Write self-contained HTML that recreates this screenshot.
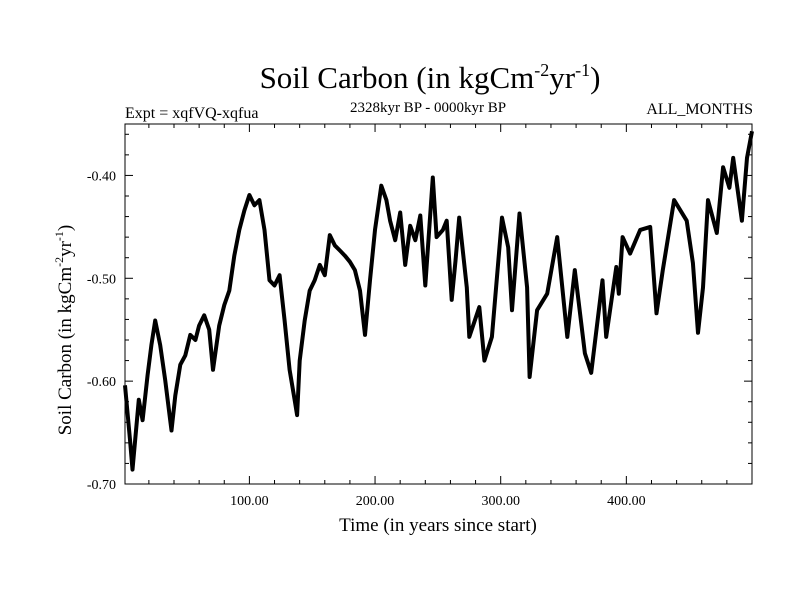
<!DOCTYPE html>
<html><head><meta charset="utf-8"><style>
body{margin:0;background:#fff}
text{font-family:"Liberation Serif",serif;fill:#000}
</style></head><body>
<svg id="chart" width="800" height="600" xmlns="http://www.w3.org/2000/svg">
<rect width="800" height="600" fill="#fff"/>
<text x="430" y="88" font-size="31" text-anchor="middle">Soil Carbon (in kgCm<tspan font-size="18" dy="-12">-2</tspan><tspan dy="12">yr</tspan><tspan font-size="18" dy="-12">-1</tspan><tspan dy="12">)</tspan></text>
<text x="428" y="112" font-size="15" text-anchor="middle">2328kyr BP - 0000kyr BP</text>
<text x="125" y="118" font-size="16">Expt = xqfVQ-xqfua</text>
<text x="753" y="114" font-size="16" text-anchor="end">ALL_MONTHS</text>
<g id="axes"></g>
<path id="series" fill="none" stroke="#000" stroke-width="4" stroke-linejoin="round"/>
<text x="438" y="531" font-size="19" text-anchor="middle">Time (in years since start)</text>
<text transform="translate(71,330) rotate(-90)" font-size="19" text-anchor="middle">Soil Carbon (in kgCm<tspan font-size="12" dy="-8">-2</tspan><tspan dy="8">yr</tspan><tspan font-size="12" dy="-8">-1</tspan><tspan dy="8">)</tspan></text>
</svg>
<script>
const years=[1,5,7,12,15,19,22,25,29,33,37,38,41,45,49,53,57,60,64,68,71,76,80,84,88,92,96,100,104,108,112,116,120,124,128,132,136,138,140,144,148,152,156,160,164,168,172,176,180,184,188,192,196,200,205,209,212,216,220,224,228,232,236,240,246,249,254,257,261,264,267,273,275,283,287,293,301,306,309,315,321,323,329,337,345,353,359,367,372,381,384,392,394,397,403,411,419,424,429,438,448,453,457,461,465,472,477,482,485,492,496,500];
const values=[-0.604,-0.657,-0.686,-0.618,-0.638,-0.594,-0.565,-0.541,-0.565,-0.599,-0.638,-0.648,-0.614,-0.584,-0.575,-0.555,-0.560,-0.546,-0.536,-0.550,-0.589,-0.546,-0.526,-0.512,-0.478,-0.453,-0.434,-0.419,-0.429,-0.424,-0.453,-0.502,-0.507,-0.497,-0.541,-0.589,-0.618,-0.633,-0.580,-0.541,-0.512,-0.502,-0.487,-0.497,-0.458,-0.468,-0.473,-0.478,-0.484,-0.492,-0.512,-0.555,-0.502,-0.453,-0.410,-0.424,-0.444,-0.463,-0.436,-0.487,-0.449,-0.463,-0.439,-0.507,-0.402,-0.460,-0.453,-0.444,-0.521,-0.483,-0.441,-0.509,-0.557,-0.528,-0.580,-0.557,-0.441,-0.470,-0.531,-0.437,-0.509,-0.596,-0.531,-0.515,-0.460,-0.557,-0.492,-0.573,-0.592,-0.502,-0.557,-0.489,-0.515,-0.460,-0.476,-0.453,-0.450,-0.534,-0.492,-0.424,-0.444,-0.485,-0.553,-0.509,-0.424,-0.456,-0.392,-0.412,-0.383,-0.444,-0.383,-0.357];
const xTicks=[100,200,300,400];
const xTickLabels=["100.00","200.00","300.00","400.00"];
const yTicks=[-0.40,-0.50,-0.60,-0.70];
const yTickLabels=["-0.40","-0.50","-0.60","-0.70"];
const X0=125,X1=752,Y0=484,Y1=124,XMIN=1,XMAX=500,YMIN=-0.70,YMAX=-0.35;
function sx(v){return X0+(v-XMIN)/(XMAX-XMIN)*(X1-X0);}
function sy(v){return Y0-(v-YMIN)/(YMAX-YMIN)*(Y0-Y1);}
const NS="http://www.w3.org/2000/svg";
const g=document.getElementById('axes');
function mk(t,a){const e=document.createElementNS(NS,t);for(const k in a)e.setAttribute(k,a[k]);g.appendChild(e);return e;}
const frame=mk('rect',{x:X0,y:Y1,width:X1-X0,height:Y0-Y1,fill:'none',stroke:'#000','stroke-width':1});


for(let v=20;v<XMAX;v+=20){const x=sx(v);const major=v%100===0;const L=major?8:4;
 const t1=mk('line',{x1:x,x2:x,y1:Y0,y2:Y0-L,stroke:'#000'});
 
 
 const t2=mk('line',{x1:x,x2:x,y1:Y1,y2:Y1+L,stroke:'#000'});
 
 }
xTicks.forEach((v,i)=>{const t=mk('text',{x:sx(v),y:Y0+21,'font-size':14,'text-anchor':'middle'});t.textContent=xTickLabels[i];
 
 });
for(let k=0;k<=17;k++){const v=YMIN+k*0.02;const y=sy(v);const major=k%5===0;const L=major?8:4;
 const t1=mk('line',{x1:X0,x2:X0+L,y1:y,y2:y,stroke:'#000'});
 
 
 const t2=mk('line',{x1:X1,x2:X1-L,y1:y,y2:y,stroke:'#000'});
 
 }
yTicks.forEach((v,i)=>{const t=mk('text',{x:X0-9,y:sy(v)+5,'font-size':14,'text-anchor':'end'});t.textContent=yTickLabels[i];
 
 });
document.getElementById('series').setAttribute('d',years.map((yr,i)=>(i?'L':'M')+sx(yr).toFixed(1)+','+sy(values[i]).toFixed(1)).join(''));
</script>
</body></html>
